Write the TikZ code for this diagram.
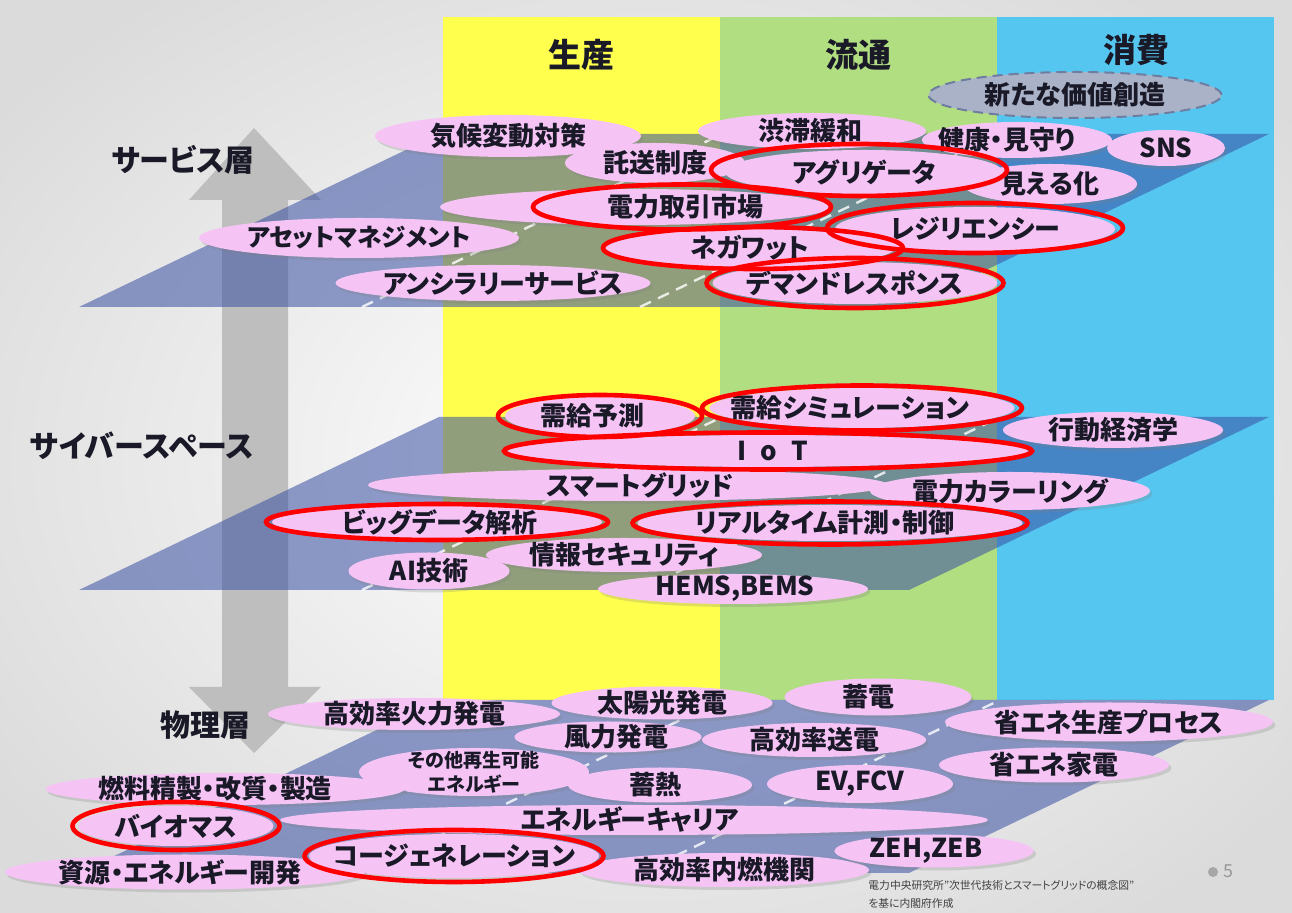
\documentclass[tikz,border=0pt]{standalone}
\usepackage{fontspec}
\setmainfont{Noto Sans CJK JP}[RawFeature=+palt]
\usetikzlibrary{shapes.geometric,shadows}
\definecolor{colY}{RGB}{255,255,77}
\definecolor{colG}{RGB}{178,222,130}
\definecolor{colB}{RGB}{85,198,240}
\definecolor{planec}{RGB}{56,79,163}
\definecolor{pinkc}{RGB}{245,196,245}
\definecolor{arrowc}{RGB}{190,190,190}
\definecolor{txtc}{RGB}{25,25,40}
\definecolor{newc}{RGB}{170,178,200}
\definecolor{newd}{RGB}{110,125,160}
\tikzset{
 pill/.style={ellipse, fill=pinkc, inner sep=0pt, drop shadow={shadow xshift=1.2pt, shadow yshift=-1.5pt, opacity=.25}},
 ptxt/.style={inner sep=0pt, font=\bfseries\fontsize{13}{15}\selectfont, text=txtc},
 ring/.style={ellipse, draw=red, line width=2.3pt, inner sep=0pt},
 plane/.style={fill=planec, fill opacity=.55},
 dline/.style={draw=white, line width=1.2pt, dash pattern=on 6pt off 4pt, opacity=.8},
 head/.style={inner sep=0pt, font=\bfseries\fontsize{16.5}{18}\selectfont, text=txtc},
 layer/.style={inner sep=0pt, font=\bfseries\fontsize{15}{17}\selectfont, text=txtc},
 foot/.style={inner sep=0pt, anchor=west, font=\fontsize{5.4}{6.5}\selectfont, text=black!75},
}
\newcommand\pillnode[6]{\node[pill,minimum width={#3*0.5pt},minimum height={#4*0.5pt}] (#1) at (#2) {};\node[ptxt] (#1t) at ([xshift={#5*0.5pt}]#1.center) {#6};}
\newcommand\ringnode[4]{\node[ring,minimum width={#3*0.5pt},minimum height={#4*0.5pt}] (#1) at (#2) {};}
\begin{document}
\begin{tikzpicture}[x=0.5pt,y=-0.5pt]
\useasboundingbox (0,0) rectangle (1292,913);
\fill[white] (0,0) rectangle (1292,913);
\shade[inner color=white, outer color=black!14] (-150,-120) rectangle (1442,1033);
% columns
\fill[colY] (443,17) rectangle (720,700);
\fill[colG] (720,17) rectangle (997,700);
\fill[colB] (997,17) rectangle (1274,700);
\node[head] (hY) at (581,55) {生産};
\node[head] (hG) at (858,55) {流通};
\node[head] (hB) at (1136,50) {消費};
% double arrow
\fill[arrowc] (222,200) -- (189,200) -- (254,128) -- (321,200) -- (288,200) -- (288,687) -- (321,687) -- (254,753) -- (189,687) -- (222,687) -- cycle;
% planes
\fill[plane] (79,307) -- (439,134) -- (1269,134) -- (909,307) -- cycle;
\fill[plane] (79,590) -- (439,417) -- (1269,417) -- (909,590) -- cycle;
\fill[plane] (79,873) -- (439,700) -- (1269,700) -- (909,873) -- cycle;
\draw[dline] (362,307) -- (722,134);
\draw[dline] (640,307) -- (1000,134);
\draw[dline] (362,590) -- (722,417);
\draw[dline] (640,590) -- (1000,417);
\draw[dline] (362,873) -- (722,700);
\draw[dline] (640,873) -- (1000,700);
% layer labels
\node[layer] (lS) at (183,160) {サービス層};
\node[layer] (lC) at (142,446) {サイバースペース};
\node[layer] (lP) at (205,725) {物理層};
% new value
\node[ellipse, fill=newc, draw=newd, line width=1pt, dash pattern=on 5pt off 3pt, minimum width=146.5pt, minimum height=23pt, inner sep=0pt] (newv) at (1075,95) {};
\node[ptxt] (newvt) at (newv) {新たな価値創造};
% service layer
\pillnode{kiko}{508,136}{266}{42}{0}{気候変動対策}
\pillnode{takuso}{655,163}{180}{40}{0}{託送制度}
\pillnode{jutai}{812,131}{228}{36}{-2}{渋滞緩和}
\pillnode{kenko}{1017,140}{190}{36}{-10}{健康・見守り}
\pillnode{sns}{1166,148}{118}{36}{0}{SNS}
\pillnode{mieru}{1050,184}{174}{40}{0}{見える化}
\pillnode{agri}{864,172}{278}{44}{0}{アグリゲータ}
\pillnode{torihiki}{635,207}{390}{36}{50}{電力取引市場}
\pillnode{resil}{975,229}{280}{44}{0}{レジリエンシー}
\pillnode{asset}{359,238}{320}{40}{0}{\fontsize{12.3}{14}\selectfont アセットマネジメント}
\pillnode{negawatt}{750,248}{290}{38}{0}{ネガワット}
\pillnode{ancillary}{493,283}{315}{36}{10}{アンシラリーサービス}
\pillnode{demand}{855,283}{285}{42}{0}{デマンドレスポンス}
\ringnode{ragri}{859,170}{296}{52}
\ringnode{rtorihiki}{682,207}{298}{45}
\ringnode{rresil}{975,228}{296}{50}
\ringnode{rnegawatt}{753,248}{300}{42}
\ringnode{rdemand}{855,283}{297}{50}
% cyber layer
\pillnode{yosoku}{600,416}{190}{38}{-8}{需給予測}
\pillnode{sim}{862,408}{305}{40}{-12}{需給シミュレーション}
\pillnode{kodo}{1113,430}{220}{36}{0}{行動経済学}
\pillnode{iot}{768,451}{520}{32}{5}{I\hspace{7pt}o\hspace{7pt}T}
\pillnode{smart}{628,485}{520}{32}{12}{スマートグリッド}
\pillnode{color}{1010,491}{280}{38}{0}{電力カラーリング}
\pillnode{bigdata}{437,522}{330}{32}{3}{ビッグデータ解析}
\pillnode{realtime}{830,523}{385}{36}{-5}{リアルタイム計測・制御}
\pillnode{security}{624,555}{276}{34}{0}{情報セキュリティ}
\pillnode{ai}{429,571}{161}{37}{0}{AI技術}
\pillnode{hems}{733,589}{270}{30}{2}{HEMS,BEMS}
\ringnode{ryosoku}{600,416}{204}{42}
\ringnode{rsim}{862,408}{320}{45}
\ringnode{riot}{768,451}{528}{37}
\ringnode{rbigdata}{437,522}{342}{36}
\ringnode{rrealtime}{830,523}{395}{43}
% physical layer
\pillnode{karyoku}{414,714}{292}{32}{0}{高効率火力発電}
\pillnode{taiyo}{662,703}{221}{33}{0}{太陽光発電}
\pillnode{chikuden}{878,697}{187}{37}{-10}{蓄電}
\pillnode{seisan}{1109,722}{328}{39}{0}{省エネ生産プロセス}
\pillnode{furyoku}{608,737}{187}{31}{8}{風力発電}
\pillnode{soden}{814,740}{224}{34}{0}{高効率送電}
\pillnode{kaden}{1054,765}{230}{35}{0}{省エネ家電}
\node[pill,minimum width=115pt,minimum height=24pt] (sonota) at (474,772) {};
\node[ptxt, font=\bfseries\fontsize{9.5}{12}\selectfont, align=center] (sonotat) at (sonota) {その他再生可能\\エネルギー};
\pillnode{chikunetsu}{660,785}{184}{35}{-5}{蓄熱}
\pillnode{ev}{860,784}{186}{38}{0}{EV,FCV}
\pillnode{nenryo}{225,789}{359}{32}{-10}{燃料精製・改質・製造}
\pillnode{carrier}{634,820}{708}{30}{-4}{エネルギーキャリア}
\pillnode{biomass}{176,826}{195}{40}{0}{バイオマス}
\pillnode{cogen}{454,856}{290}{44}{0}{コージェネレーション}
\pillnode{shigen}{185,872}{360}{35}{-5}{資源・エネルギー開発}
\pillnode{nainen}{724,870}{290}{34}{0}{高効率内燃機関}
\pillnode{zeh}{934,851}{199}{33}{-8}{ZEH,ZEB}
\ringnode{rbiomass}{176,826}{207}{48}
\ringnode{rcogen}{454,856}{299}{52}
% footnote and page number
\node[foot] (f1) at (868,885) {電力中央研究所”次世代技術とスマートグリッドの概念図”};
\node[foot] (f2) at (868,903) {を基に内閣府作成};
\node[circle, fill=black!35, minimum size=5pt, inner sep=0pt] (pgdot) at (1213,872) {};
\node[inner sep=0pt, text=black!40, font=\fontsize{9}{10}\selectfont] (pgnum) at (1228,871) {5};
\end{tikzpicture}
\end{document}
